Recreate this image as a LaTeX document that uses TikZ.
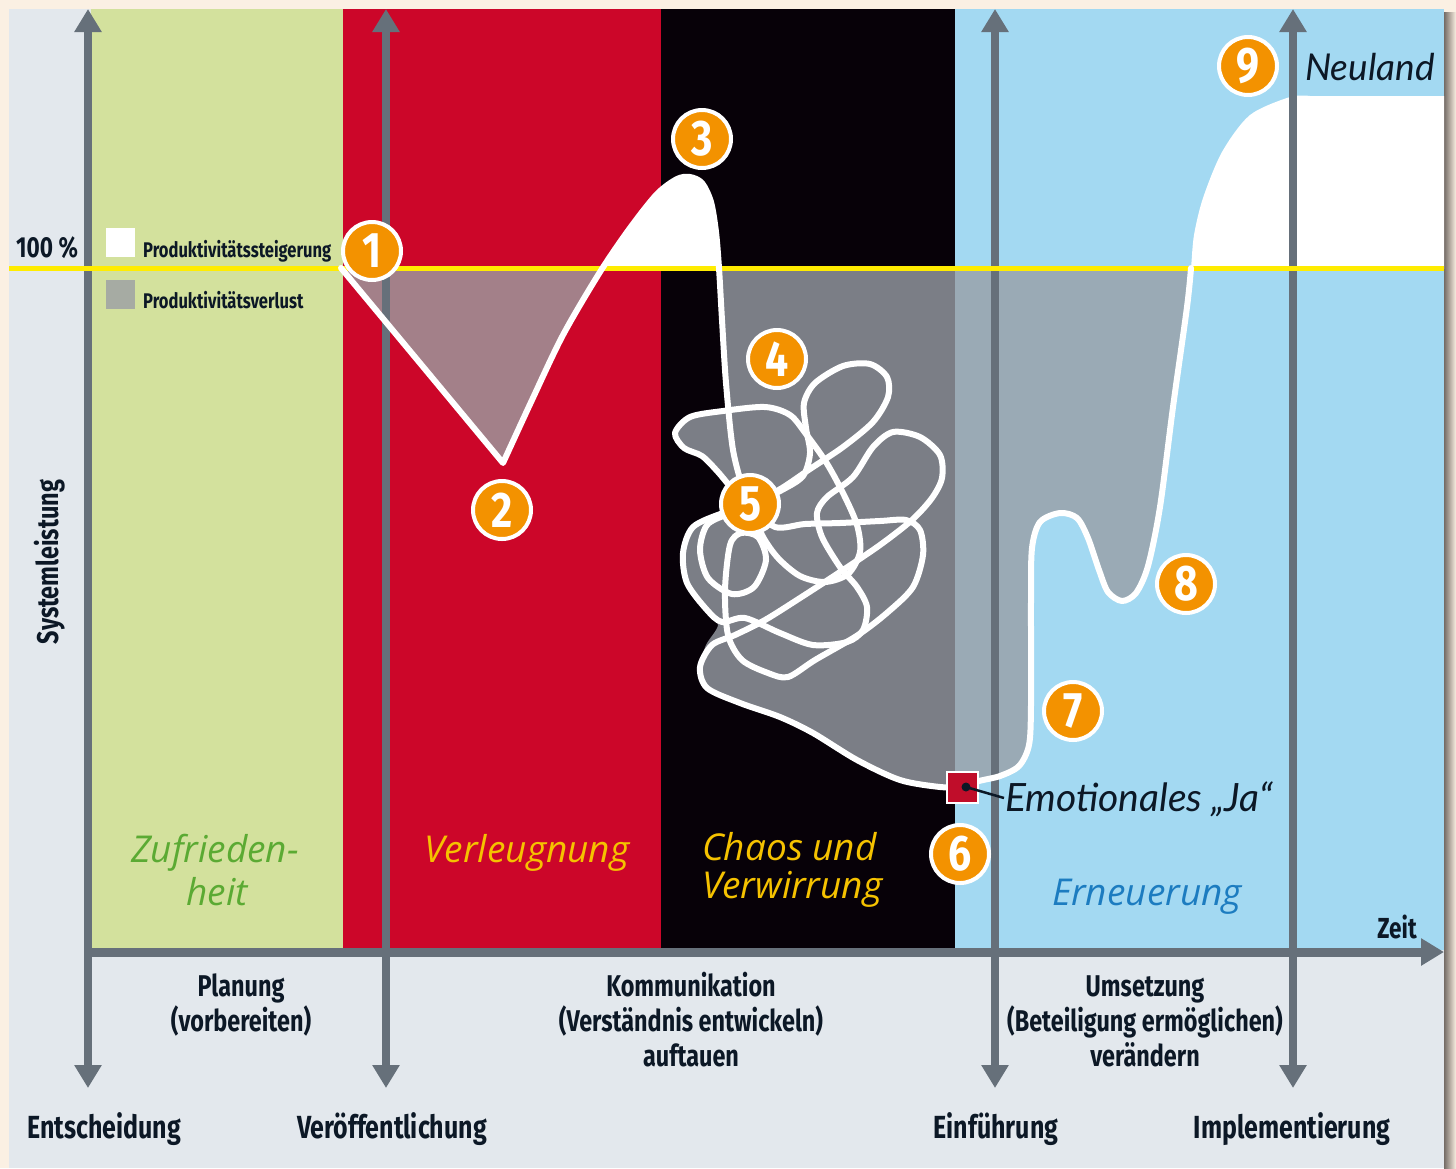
\documentclass[tikz,border=0pt]{standalone}
\usepackage{fontspec}
\usetikzlibrary{arrows.meta}
\newfontfamily\condf{Fira Sans}[FakeStretch=0.78]
\newfontfamily\numf{Fira Sans}[FakeStretch=0.82]
\newfontfamily\handf{Open Sans}
\newfontfamily\emof{Lato}
\definecolor{cream}{HTML}{FBF0E3}
\definecolor{panel}{HTML}{E3E8ED}
\definecolor{bgreen}{HTML}{D3E19D}
\definecolor{bred}{HTML}{CC0629}
\definecolor{bblack}{HTML}{070108}
\definecolor{bblue}{HTML}{A3D9F2}
\definecolor{agray}{HTML}{66707A}
\definecolor{yline}{HTML}{FFEC00}
\definecolor{mauve}{HTML}{A38089}
\definecolor{kgray}{HTML}{7B7E86}
\definecolor{bgray}{HTML}{9AAAB5}
\definecolor{orng}{HTML}{F39200}
\definecolor{navy}{HTML}{0C1826}
\definecolor{lgray}{HTML}{A6ABA3}
\definecolor{boxred}{HTML}{C00D2A}
\definecolor{hgreen}{HTML}{5BAA33}
\definecolor{hgold}{HTML}{F5C200}
\definecolor{hblue}{HTML}{1C7CC0}
\definecolor{shadowc}{HTML}{756C66}
\tikzset{
  numc/.style={circle, fill=orng, draw=white, line width=4pt, minimum size=58pt, inner sep=0pt,
    text=white, font=\numf\bfseries\fontsize{50}{50}\selectfont},
  lbl/.style={text=navy, inner sep=0pt, font=\condf\bfseries\fontsize{30}{36}\selectfont},
  mile/.style={lbl, font=\condf\bfseries\fontsize{32}{36}\selectfont},
  legtxt/.style={lbl, font=\condf\bfseries\fontsize{21.2}{26}\selectfont},
  hand/.style={inner sep=0pt, font=\handf\itshape\fontsize{37}{44}\selectfont},
  emo/.style={inner sep=0pt, text=navy, font=\emof\itshape\fontsize{39}{42}\selectfont},
  curve/.style={draw=white, line width=6pt, line join=round, line cap=round},
  varrow/.style={draw=agray, line width=8.5pt, {Triangle[width=26pt,length=23pt]}-{Triangle[width=26pt,length=23pt]}},
  harrow/.style={draw=agray, line width=9pt, -{Triangle[width=26pt,length=23pt]}},
  legsq/.style={minimum size=29pt, inner sep=0pt, anchor=north west}
}
\begin{document}
\begin{tikzpicture}[x=1pt,y=-1pt]
\useasboundingbox (0,0) rectangle (1456,1168);
% background
\fill[cream] (0,0) rectangle (1456,1168);
\shade[left color=shadowc, right color=cream] (1444,12) rectangle (1456,1168);
\fill[panel] (9,9) rectangle (1444,1168);
% bands
\fill[bgreen] (91,9) rectangle (343,950);
\fill[bred] (343,9) rectangle (661,950);
\fill[bblack] (661,9) rectangle (955,950);
\fill[bblue] (955,9) rectangle (1444,950);
% fills below the 100% line
\begin{scope}
\clip (0,268) rectangle (955,1168);
\fill[mauve] (341,268) -- plot[smooth] coordinates {(503,463) (532,400) (563,335) (600,272) (630,228)} -- cycle;
\fill[kgray] plot[smooth] coordinates {(690,177) (702,183) (711,202) (716,232) (719,268) (722,320) (726,383) (733,450) (745,495) (752,508)} -- (955,508) -- (955,180) -- cycle;
\fill[kgray] plot[smooth] coordinates {(751,505) (762,535) (778,558) (800,576) (825,582) (848,574) (860,552) (857,525) (843,493) (826,462) (806,434) (790,415) (765,407) (723,411) (690,417) (675,433) (684,448) (702,456) (718,472) (735,492) (751,505)} -- cycle;
\fill[kgray] plot[smooth] coordinates {(751,505) (723,513) (693,527) (683,553) (687,583) (707,610) (718,625) (706,645) (700,667) (707,688) (740,703) (780,717) (813,733) (857,760) (900,780) (940,787) (962,787)} -- (955,790) -- (955,505) -- cycle;
\end{scope}
\fill[bgray] (955,268) -- (955,790) -- plot[smooth] coordinates {(962,787) (979,781) (1000,776) (1019,766) (1029,745) (1031,705) (1031,600) (1032,548) (1040,522) (1060,513) (1077,518) (1088,538) (1099,570) (1108,592) (1122,601) (1136,593) (1148,566) (1160,507) (1173,407) (1187,307) (1191,268)} -- cycle;
% fills above the 100% line
\begin{scope}
\clip (0,0) rectangle (1456,268);
\fill[white] plot[smooth] coordinates {(563,335) (600,272) (630,228) (657,194) (677,179) (690,177) (702,183) (711,202) (716,232) (719,268) (722,320)} -- cycle;
\fill[white] plot[smooth] coordinates {(1173,407) (1187,307) (1191,268) (1194,235) (1203,198) (1222,152) (1250,115) (1290,97) (1310,96)} -- (1444,96) -- (1444,300) -- cycle;
\end{scope}
% axes
\coordinate (a1t) at (88,9);   \coordinate (a1b) at (88,1088);
\coordinate (a2t) at (386,9);  \coordinate (a2b) at (386,1088);
\coordinate (a3t) at (995,9);  \coordinate (a3b) at (995,1088);
\coordinate (a4t) at (1293,9); \coordinate (a4b) at (1293,1088);
\coordinate (ax0) at (88,952); \coordinate (ax1) at (1444,952);
\draw[varrow] (a1t) -- (a1b);
\draw[varrow] (a2t) -- (a2b);
\draw[varrow] (a3t) -- (a3b);
\draw[varrow] (a4t) -- (a4b);
\draw[harrow] (ax0) -- (ax1);
% 100% line
\coordinate (y0) at (9,268); \coordinate (y1) at (1444,268);
\draw[yline, line width=5pt] (y0) -- (y1);
% curve
\draw[curve] (341,268) -- plot[smooth] coordinates {(503,463) (532,400) (563,335) (600,272) (630,228) (657,194) (677,179) (690,177) (702,183) (711,202) (716,232) (719,268) (722,320) (726,383) (733,450) (745,495) (752,508)};
\draw[curve] plot[smooth] coordinates {(751,505) (762,535) (778,558) (800,576) (825,582) (848,574) (860,552) (857,525) (843,493) (826,462) (806,434) (790,415) (765,407) (723,411) (690,417) (675,433) (684,448) (702,456) (718,472) (735,492) (751,505)};
\draw[curve] plot[smooth] coordinates {(751,505) (782,490) (803,476) (810,453) (806,428) (804,403) (815,383) (843,366) (870,364) (887,377) (888,397) (873,422) (843,447) (810,469) (782,488) (751,505)};
\draw[curve] plot[smooth] coordinates {(751,505) (728,514) (707,525) (700,550) (708,578) (732,594) (754,587) (766,560) (758,537) (741,533) (730,545) (725,590) (728,635) (742,660) (768,673) (788,677) (815,660) (858,635) (888,612) (913,587) (923,555) (920,530) (906,520) (880,521) (840,523) (805,524) (775,527) (751,505)};
\draw[curve] plot[smooth] coordinates {(751,505) (723,513) (693,527) (683,553) (687,583) (707,610) (722,622) (745,618) (780,633) (813,645) (847,642) (863,630) (867,607) (857,587) (840,567) (822,537) (817,513) (827,497) (853,477) (873,447) (893,432) (920,437) (940,455) (942,478) (932,498) (912,520) (880,545) (840,572) (800,598) (765,620) (735,635) (712,645) (700,667) (707,688) (740,703) (780,717) (813,733) (857,760) (900,780) (940,787) (962,787)};
\draw[curve] plot[smooth] coordinates {(962,787) (979,781) (1000,776) (1019,766) (1029,745) (1031,705) (1031,600) (1032,548) (1040,522) (1060,513) (1077,518) (1088,538) (1099,570) (1108,592) (1122,601) (1136,593) (1148,566) (1160,507) (1173,407) (1187,307) (1191,268)};
% emotional yes marker
\node[draw=white, line width=2pt, fill=boxred, minimum size=31pt, inner sep=0pt] (ja) at (962,787) {};
\coordinate (jadot) at (966,787);
\coordinate (jaend) at (1004,798);
\draw[navy, line width=2.5pt] (jadot) -- (jaend);
\fill[navy] (jadot) circle (4.5);
\node[emo, anchor=base west] (emo) at (1005,811) {Emotionales „Ja“};
\node[emo, anchor=base west, font=\emof\itshape\fontsize{37}{40}\selectfont] (neu) at (1305,80) {Neuland};
% numbered circles
\node[numc] (n1) at (372,251) {1};
\node[numc] (n2) at (502,510) {2};
\node[numc] (n3) at (702,139) {3};
\node[numc] (n4) at (777,359) {4};
\node[numc] (n5) at (750,504) {5};
\node[numc] (n6) at (960,854) {6};
\node[numc] (n7) at (1073,711) {7};
\node[numc] (n8) at (1186,584) {8};
\node[numc] (n9) at (1248,66) {9};
% legend
\node[legsq, fill=white] (legw) at (106,228) {};
\node[legsq, fill=lgray] (legg) at (106,280) {};
\node[legtxt, anchor=base west] (legwt) at (143,257) {Produktivitätssteigerung};
\node[legtxt, anchor=base west] (leggt) at (143,308) {Produktivitätsverlust};
\node[lbl, anchor=base west, font=\condf\bfseries\fontsize{29}{32}\selectfont] (hundred) at (16,257) {100 \%};
\node[lbl, rotate=90] (sys) at (50,562) {Systemleistung};
\node[lbl, anchor=base, font=\condf\bfseries\fontsize{29}{32}\selectfont] (zeit) at (1397,938) {Zeit};
% phase labels
\node[lbl, anchor=base] (p1a) at (241,996) {Planung};
\node[lbl, anchor=base] (p1b) at (241,1031) {(vorbereiten)};
\node[lbl, anchor=base] (p2a) at (691,996) {Kommunikation};
\node[lbl, anchor=base] (p2b) at (691,1031) {(Verständnis entwickeln)};
\node[lbl, anchor=base] (p2c) at (691,1066) {auftauen};
\node[lbl, anchor=base] (p3a) at (1145,996) {Umsetzung};
\node[lbl, anchor=base] (p3b) at (1145,1031) {(Beteiligung ermöglichen)};
\node[lbl, anchor=base] (p3c) at (1145,1066) {verändern};
% milestones
\node[mile, anchor=base] (m1) at (104,1138) {Entscheidung};
\node[mile, anchor=base] (m2) at (392,1138) {Veröffentlichung};
\node[mile, anchor=base] (m3) at (996,1138) {Einführung};
\node[mile, anchor=base] (m4) at (1292,1138) {Implementierung};
% handwritten phase names
\node[hand, text=hgreen, anchor=base] (zufa) at (215,862) {Zufrieden-};
\node[hand, text=hgreen, anchor=base] (zufb) at (217,905) {heit};
\node[hand, text=hgold, anchor=base] (verl) at (527,862) {Verleugnung};
\node[hand, text=hgold, anchor=base west] (chaa) at (702,860) {Chaos und};
\node[hand, text=hgold, anchor=base west] (chab) at (702,898) {Verwirrung};
\node[hand, text=hblue, anchor=base west] (ern) at (1052,905) {Erneuerung};
\end{tikzpicture}
\end{document}
